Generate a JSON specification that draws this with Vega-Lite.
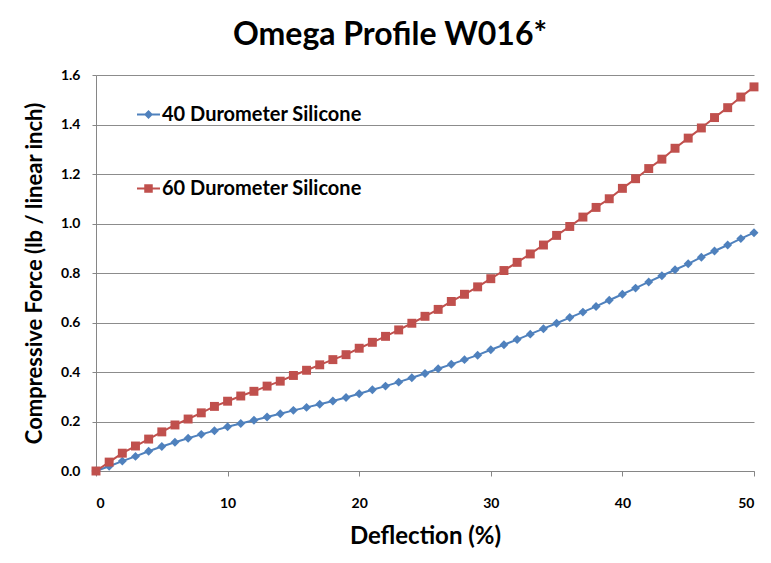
{
  "$schema": "https://vega.github.io/schema/vega-lite/v6.json",
  "width": 658,
  "height": 396,
  "autosize": {"type": "none"},
  "padding": {"left": 96, "top": 75, "right": 17, "bottom": 92},
  "background": "white",
  "title": {"text": "Omega Profile W016*", "font": "Lato", "fontSize": 32, "fontWeight": "bold", "color": "black", "anchor": "middle", "dx": -35, "offset": 16},
  "data": {"values": [
    {"d": 0, "40 Durometer Silicone": 0, "60 Durometer Silicone": 0},
    {"d": 1, "40 Durometer Silicone": 0.019, "60 Durometer Silicone": 0.036},
    {"d": 2, "40 Durometer Silicone": 0.040, "60 Durometer Silicone": 0.072},
    {"d": 3, "40 Durometer Silicone": 0.059, "60 Durometer Silicone": 0.101},
    {"d": 4, "40 Durometer Silicone": 0.080, "60 Durometer Silicone": 0.129},
    {"d": 5, "40 Durometer Silicone": 0.099, "60 Durometer Silicone": 0.158},
    {"d": 6, "40 Durometer Silicone": 0.116, "60 Durometer Silicone": 0.186},
    {"d": 7, "40 Durometer Silicone": 0.132, "60 Durometer Silicone": 0.210},
    {"d": 8, "40 Durometer Silicone": 0.148, "60 Durometer Silicone": 0.235},
    {"d": 9, "40 Durometer Silicone": 0.163, "60 Durometer Silicone": 0.261},
    {"d": 10, "40 Durometer Silicone": 0.179, "60 Durometer Silicone": 0.282},
    {"d": 11, "40 Durometer Silicone": 0.192, "60 Durometer Silicone": 0.303},
    {"d": 12, "40 Durometer Silicone": 0.205, "60 Durometer Silicone": 0.322},
    {"d": 13, "40 Durometer Silicone": 0.218, "60 Durometer Silicone": 0.343},
    {"d": 14, "40 Durometer Silicone": 0.231, "60 Durometer Silicone": 0.363},
    {"d": 15, "40 Durometer Silicone": 0.245, "60 Durometer Silicone": 0.386},
    {"d": 16, "40 Durometer Silicone": 0.257, "60 Durometer Silicone": 0.407},
    {"d": 17, "40 Durometer Silicone": 0.270, "60 Durometer Silicone": 0.429},
    {"d": 18, "40 Durometer Silicone": 0.283, "60 Durometer Silicone": 0.450},
    {"d": 19, "40 Durometer Silicone": 0.297, "60 Durometer Silicone": 0.470},
    {"d": 20, "40 Durometer Silicone": 0.312, "60 Durometer Silicone": 0.496},
    {"d": 21, "40 Durometer Silicone": 0.328, "60 Durometer Silicone": 0.520},
    {"d": 22, "40 Durometer Silicone": 0.343, "60 Durometer Silicone": 0.544},
    {"d": 23, "40 Durometer Silicone": 0.359, "60 Durometer Silicone": 0.570},
    {"d": 24, "40 Durometer Silicone": 0.377, "60 Durometer Silicone": 0.597},
    {"d": 25, "40 Durometer Silicone": 0.394, "60 Durometer Silicone": 0.625},
    {"d": 26, "40 Durometer Silicone": 0.413, "60 Durometer Silicone": 0.653},
    {"d": 27, "40 Durometer Silicone": 0.431, "60 Durometer Silicone": 0.685},
    {"d": 28, "40 Durometer Silicone": 0.450, "60 Durometer Silicone": 0.714},
    {"d": 29, "40 Durometer Silicone": 0.468, "60 Durometer Silicone": 0.744},
    {"d": 30, "40 Durometer Silicone": 0.490, "60 Durometer Silicone": 0.777},
    {"d": 31, "40 Durometer Silicone": 0.510, "60 Durometer Silicone": 0.810},
    {"d": 32, "40 Durometer Silicone": 0.531, "60 Durometer Silicone": 0.843},
    {"d": 33, "40 Durometer Silicone": 0.553, "60 Durometer Silicone": 0.877},
    {"d": 34, "40 Durometer Silicone": 0.575, "60 Durometer Silicone": 0.913},
    {"d": 35, "40 Durometer Silicone": 0.597, "60 Durometer Silicone": 0.952},
    {"d": 36, "40 Durometer Silicone": 0.620, "60 Durometer Silicone": 0.988},
    {"d": 37, "40 Durometer Silicone": 0.642, "60 Durometer Silicone": 1.026},
    {"d": 38, "40 Durometer Silicone": 0.665, "60 Durometer Silicone": 1.065},
    {"d": 39, "40 Durometer Silicone": 0.690, "60 Durometer Silicone": 1.100},
    {"d": 40, "40 Durometer Silicone": 0.714, "60 Durometer Silicone": 1.142},
    {"d": 41, "40 Durometer Silicone": 0.739, "60 Durometer Silicone": 1.181},
    {"d": 42, "40 Durometer Silicone": 0.764, "60 Durometer Silicone": 1.222},
    {"d": 43, "40 Durometer Silicone": 0.789, "60 Durometer Silicone": 1.260},
    {"d": 44, "40 Durometer Silicone": 0.813, "60 Durometer Silicone": 1.304},
    {"d": 45, "40 Durometer Silicone": 0.837, "60 Durometer Silicone": 1.345},
    {"d": 46, "40 Durometer Silicone": 0.864, "60 Durometer Silicone": 1.386},
    {"d": 47, "40 Durometer Silicone": 0.889, "60 Durometer Silicone": 1.428},
    {"d": 48, "40 Durometer Silicone": 0.913, "60 Durometer Silicone": 1.468},
    {"d": 49, "40 Durometer Silicone": 0.939, "60 Durometer Silicone": 1.511},
    {"d": 50, "40 Durometer Silicone": 0.963, "60 Durometer Silicone": 1.552}
  ]},
  "transform": [{"fold": ["40 Durometer Silicone", "60 Durometer Silicone"], "as": ["series", "force"]}],
  "encoding": {
    "x": {"field": "d", "type": "quantitative", "title": "Deflection (%)",
      "scale": {"domain": [0, 50], "nice": false},
      "axis": {"values": [0, 10, 20, 30, 40, 50], "grid": false, "tickSize": 5, "labelPadding": 20, "titlePadding": 14, "titleFontSize": 24}},
    "y": {"field": "force", "type": "quantitative", "title": "Compressive Force (lb / linear inch)",
      "scale": {"domain": [0, 1.6], "nice": false},
      "axis": {"values": [0, 0.2, 0.4, 0.6, 0.8, 1.0, 1.2, 1.4, 1.6], "format": ".1f", "grid": true, "tickSize": 4, "labelPadding": 12, "titlePadding": 14, "titleFontSize": 22}}
  },
  "layer": [
    {
      "mark": {"type": "line", "strokeWidth": 2},
      "encoding": {
        "color": {"field": "series", "type": "nominal", "scale": {"domain": ["40 Durometer Silicone", "60 Durometer Silicone"], "range": ["#4F81BD", "#C0504D"]}, "legend": null}
      }
    },
    {
      "mark": {"type": "point", "filled": true, "opacity": 1, "size": 80},
      "encoding": {
        "color": {"field": "series", "type": "nominal", "scale": {"domain": ["40 Durometer Silicone", "60 Durometer Silicone"], "range": ["#4F81BD", "#C0504D"]}, "legend": null},
        "shape": {"field": "series", "type": "nominal", "scale": {"domain": ["40 Durometer Silicone", "60 Durometer Silicone"], "range": ["diamond", "square"]}, "legend": null}
      }
    },
    {
      "mark": {"type": "point", "filled": true, "opacity": 0, "size": 10},
      "encoding": {
        "color": {"field": "series", "type": "nominal", "scale": {"domain": ["40 Durometer Silicone", "60 Durometer Silicone"], "range": ["#4F81BD", "#C0504D"]},
          "legend": {"title": null, "orient": "none", "legendX": 41, "legendY": 28, "padding": 0, "symbolSize": 529, "symbolOpacity": 1, "symbolStrokeWidth": 0, "rowPadding": 52, "labelOffset": 2, "labelFont": "Lato", "labelFontSize": 20, "labelFontWeight": "bold", "labelColor": "black", "labelLimit": 400}},
        "shape": {"field": "series", "type": "nominal", "scale": {"domain": ["40 Durometer Silicone", "60 Durometer Silicone"], "range": ["M-1,-0.09H1V0.09H-1ZM0,-0.39L0.39,0L0,0.39L-0.39,0Z", "M-1,-0.09H1V0.09H-1ZM-0.37,-0.37H0.37V0.37H-0.37Z"]},
          "legend": {"title": null, "orient": "none", "legendX": 41, "legendY": 28, "padding": 0, "symbolSize": 529, "symbolOpacity": 1, "symbolStrokeWidth": 0, "rowPadding": 52, "labelOffset": 2, "labelFont": "Lato", "labelFontSize": 20, "labelFontWeight": "bold", "labelColor": "black", "labelLimit": 400}}
      }
    }
  ],
  "resolve": {"scale": {"color": "independent", "shape": "independent"}},
  "config": {
    "font": "Lato",
    "view": {"stroke": null},
    "axis": {
      "domainColor": "#868686", "tickColor": "#868686", "gridColor": "#8c8c8c", "domainWidth": 1, "gridWidth": 1,
      "labelFont": "Lato", "labelFontSize": 14, "labelFontWeight": "bold", "labelColor": "black",
      "titleFont": "Lato", "titleFontWeight": "bold", "titleColor": "black"
    }
  }
}
